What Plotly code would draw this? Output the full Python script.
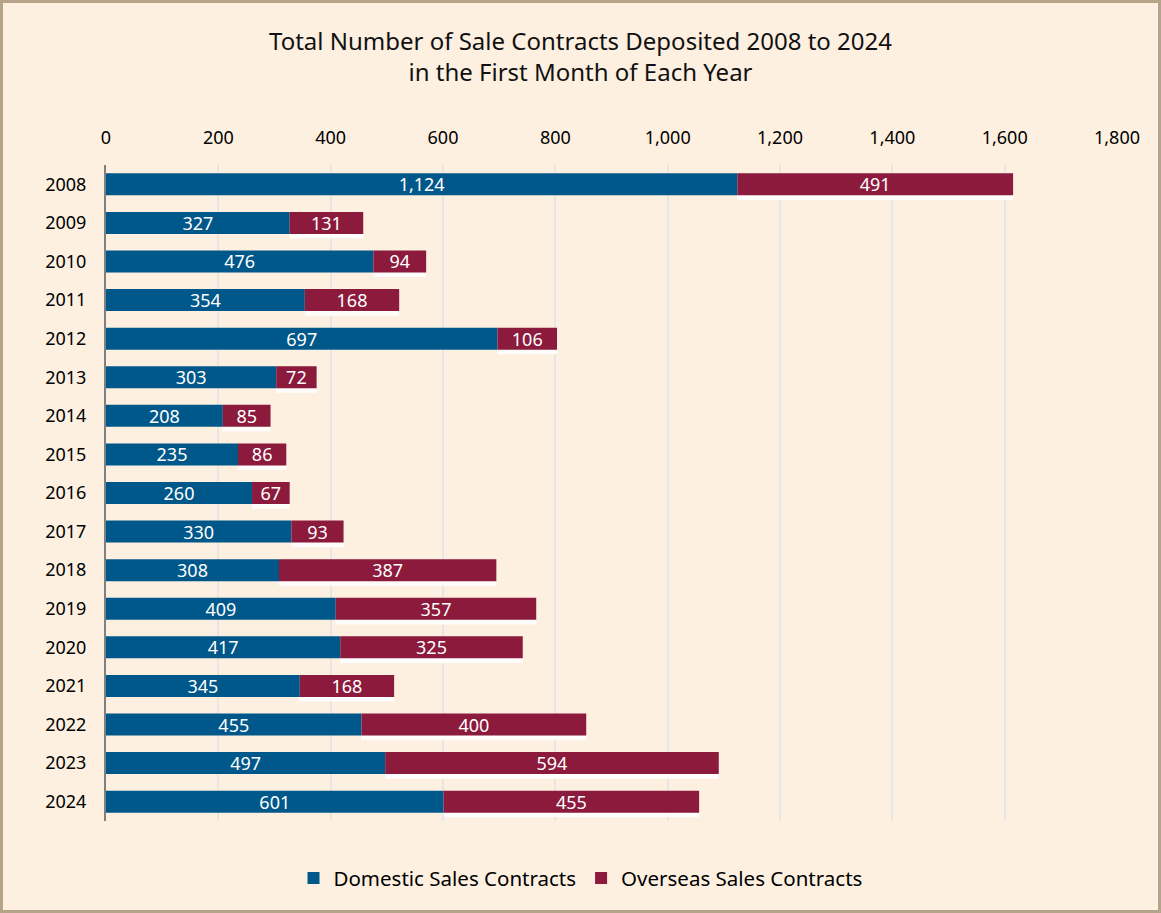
import plotly.graph_objects as go

years = ["2008", "2009", "2010", "2011", "2012", "2013", "2014", "2015", "2016",
         "2017", "2018", "2019", "2020", "2021", "2022", "2023", "2024"]
domestic = [1124, 327, 476, 354, 697, 303, 208, 235, 260, 330, 308, 409, 417, 345, 455, 497, 601]
overseas = [491, 131, 94, 168, 106, 72, 85, 86, 67, 93, 387, 357, 325, 168, 400, 594, 455]

W, H = 1161, 913
ml, mr, mt, mb = 106, 44, 165, 92
font = "Noto Sans"
blue = "#00578A"
red = "#8B1A3C"
bg = "#FDF0E0"

bw = 0.57
fig = go.Figure()

# soft white shadow under the overseas segment
fig.add_trace(go.Bar(y=years, x=overseas, base=domestic, orientation="h",
                     width=bw, offset=-bw / 2 + 0.12,
                     marker=dict(color="rgba(255,255,255,0.85)", line=dict(width=0)),
                     hoverinfo="skip", showlegend=False))

lbl = dict(textposition="inside", insidetextanchor="middle", textangle=0,
           constraintext="none", cliponaxis=False,
           textfont=dict(color="white", size=18, family=font))

fig.add_trace(go.Bar(y=years, x=domestic, orientation="h", name="Domestic Sales Contracts",
                     width=bw, offset=-bw / 2,
                     marker=dict(color=blue, line=dict(width=0)),
                     text=[f"{v:,}" for v in domestic], **lbl))
fig.add_trace(go.Bar(y=years, x=overseas, base=domestic, orientation="h",
                     name="Overseas Sales Contracts",
                     width=bw, offset=-bw / 2,
                     marker=dict(color=red, line=dict(width=0)),
                     text=[f"{v:,}" for v in overseas], **lbl))

pw = W - ml - mr
ph = H - mt - mb

fig.update_layout(
    width=W, height=H,
    barmode="overlay",
    paper_bgcolor=bg, plot_bgcolor=bg,
    margin=dict(l=ml, r=mr, t=mt, b=mb, autoexpand=False),
    font=dict(family=font, color="#000000"),
    title=dict(text="Total Number of Sale Contracts Deposited 2008 to 2024<br>in the First Month of Each Year",
               x=0.5, xanchor="center", y=0.945, yanchor="top",
               font=dict(size=24, color="#111111", family=font)),
    xaxis=dict(range=[0, 1800], dtick=200, tickformat=",", side="top",
               showgrid=True, gridcolor="#E6E6E6", gridwidth=2,
               zeroline=False, showline=False, ticks="", tickangle=0,
               automargin=False, ticklabelstandoff=16,
               tickfont=dict(size=18, family=font)),
    yaxis=dict(autorange="reversed", showgrid=False, showline=True,
               linecolor="#808080", linewidth=2, ticks="", automargin=False,
               ticklabelstandoff=14,
               tickfont=dict(size=18, family=font)),
    legend=dict(orientation="h", xref="container", x=0.5, xanchor="center",
                y=-0.087, yanchor="middle",
                font=dict(size=20.5, family=font), bgcolor="rgba(0,0,0,0)",
                traceorder="normal"),
    showlegend=True,
    shapes=[dict(type="rect", xref="paper", yref="paper",
                 x0=-(ml - 1.5) / pw, x1=1 + (mr - 1.5) / pw,
                 y0=-(mb - 1.5) / ph, y1=1 + (mt - 1.5) / ph,
                 line=dict(color="#B5A48A", width=3), layer="below")],
)

fig.write_html("out.html", config={"displayModeBar": False},
               post_script="document.body.style.margin='0';")
